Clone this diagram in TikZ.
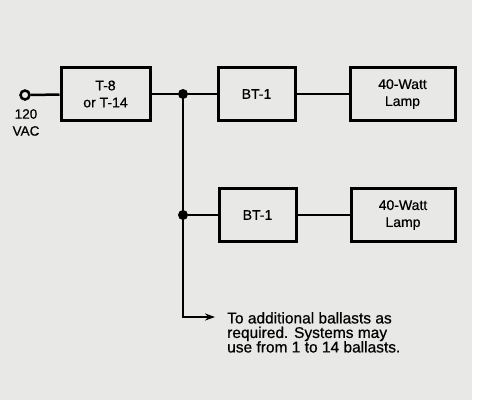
\documentclass[tikz,border=0pt]{standalone}
\usepackage{fontspec}
\setmainfont{Liberation Sans}[FakeBold=0.6]
\usetikzlibrary{arrows.meta}
\definecolor{paper}{RGB}{232,232,230}
\begin{document}
\begin{tikzpicture}[x=1pt,y=-1pt,
  blk/.style={draw, line width=3pt, minimum height=53pt, align=center,
    font=\fontsize{14}{17}\selectfont, inner sep=0pt},
  wire/.style={line width=2.5pt},
  dot/.style={circle, fill=black, minimum size=10pt, inner sep=0pt},
  lbl/.style={font=\fontsize{13.5}{17}\selectfont, align=center, inner sep=0pt},
  note/.style={font=\fontsize{15.5}{14.5}\selectfont, align=left, inner sep=0pt}]
\fill[paper] (0,0) rectangle (472,400);
\useasboundingbox (0,0) rectangle (479,400);
\node[circle, draw, line width=2.5pt, fill=paper, minimum size=9pt, inner sep=0pt] (term) at (25,95) {};
\node[lbl, anchor=north] (vac) at (26,109) {120\\VAC};
\node[blk, minimum width=89pt] (t8) at (105.5,94) {T-8\\or T-14};
\node[blk, minimum width=77pt] (bt1a) at (256.5,94) {BT-1};
\node[blk, minimum width=105pt] (lampa) at (402.5,94) {40-Watt\\Lamp};
\node[blk, minimum width=77pt] (bt1b) at (257.5,215) {BT-1};
\node[blk, minimum width=104pt] (lampb) at (403,215) {40-Watt\\Lamp};
\node[dot] (j1) at (183,94) {};
\node[dot] (j2) at (183,215) {};
\coordinate (corner) at (183,317);
\coordinate (tip) at (215,317);
\node[note, anchor=north west] (txt) at (227,312) {To additional ballasts as\\required. Systems may\\use from 1 to 14 ballasts.};
\draw[wire] (term) -- (t8);
\draw[wire] (t8) -- (j1) -- (bt1a);
\draw[wire] (bt1a) -- (lampa);
\draw[wire] (j2) -- (bt1b);
\draw[wire] (bt1b) -- (lampb);
\draw[wire] (j1.center) -- (j2.center);
\draw[wire, -{Stealth[length=10pt,width=7pt]}] (j2.center) -- (corner) -- (tip);
\end{tikzpicture}
\end{document}
